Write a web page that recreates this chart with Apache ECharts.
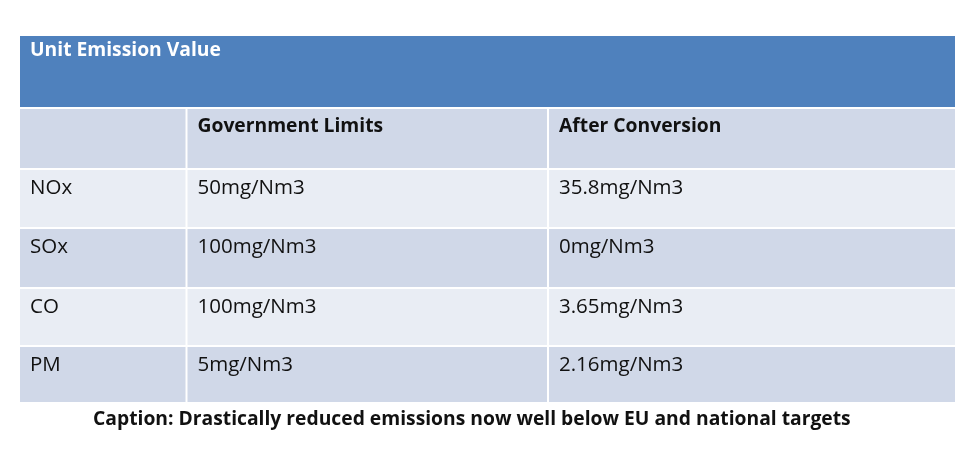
<!DOCTYPE html>
<html>
<head>
<meta charset="utf-8">
<title>Unit Emission Value</title>
<script src="https://cdn.jsdelivr.net/npm/echarts@6/dist/echarts.min.js"></script>
<style>
  html, body { margin: 0; padding: 0; background: #fff; }
  #main { width: 959px; height: 463px; }
</style>
</head>
<body>
<div id="main"></div>
<script>
// table content
var title = 'Unit Emission Value';
var columns = ['', 'Government Limits', 'After Conversion'];
var pollutants = ['NOx', 'SOx', 'CO', 'PM'];
var govLimits = ['50mg/Nm3', '100mg/Nm3', '100mg/Nm3', '5mg/Nm3'];
var afterConversion = ['35.8mg/Nm3', '0mg/Nm3', '3.65mg/Nm3', '2.16mg/Nm3'];
var caption = 'Caption: Drastically reduced emissions now well below EU and national targets';

// layout of the table on the axes (x and y in axis units)
var colEdges = [0, 167.5, 529, 937];
var rowEdges = [0, 73, 134, 193, 253, 311, 368];

// build cells: [x0, x1, y0, y1, text, kind]
var cells = [];
cells.push([colEdges[0], colEdges[3], rowEdges[0], rowEdges[1], title, 'title']);
for (var c = 0; c < 3; c++) {
  cells.push([colEdges[c], colEdges[c + 1], rowEdges[1], rowEdges[2], columns[c], 'head']);
}
for (var r = 0; r < pollutants.length; r++) {
  var vals = [pollutants[r], govLimits[r], afterConversion[r]];
  for (var c = 0; c < 3; c++) {
    cells.push([colEdges[c], colEdges[c + 1], rowEdges[r + 2], rowEdges[r + 3], vals[c], r % 2 === 0 ? 'odd' : 'even']);
  }
}

var chart = echarts.init(document.getElementById('main'));
chart.setOption({
  animation: false,
  grid: { left: 19, right: 3, top: 35, bottom: 60 },
  xAxis: { type: 'value', min: 0, max: 937, show: false },
  yAxis: { type: 'value', min: 0, max: 368, inverse: true, show: false },
  title: {
    text: caption,
    left: 88,
    top: 405,
    textStyle: { fontFamily: 'Open Sans', fontWeight: 'bold', fontSize: 19.3, color: '#111' }
  },
  series: [{
    type: 'custom',
    data: cells,
    encode: { x: [0, 1], y: [2, 3] },
    renderItem: function (params, api) {
      var p0 = api.coord([api.value(0), api.value(2)]);
      var p1 = api.coord([api.value(1), api.value(3)]);
      var item = cells[params.dataIndex];
      var kind = item[5];
      var fill = kind === 'title' ? '#4f81bd' : (kind === 'head' || kind === 'even') ? '#d0d8e8' : '#e9edf4';
      var bold = kind === 'title' || kind === 'head';
      var size = bold ? 19.3 : 20.5;
      var offY = kind === 'title' ? 16 : 19;
      return {
        type: 'group',
        children: [{
          type: 'rect',
          shape: { x: p0[0] + 1, y: p0[1] + 1, width: p1[0] - p0[0] - 2, height: p1[1] - p0[1] - 2 },
          style: { fill: fill }
        }, {
          type: 'text',
          style: {
            x: p0[0] + 11,
            y: p0[1] + offY,
            text: item[4],
            fill: kind === 'title' ? '#ffffff' : '#111111',
            font: (bold ? 'bold ' : '') + size + 'px "Open Sans"',
            textVerticalAlign: 'middle'
          }
        }]
      };
    }
  }]
});
</script>
</body>
</html>
